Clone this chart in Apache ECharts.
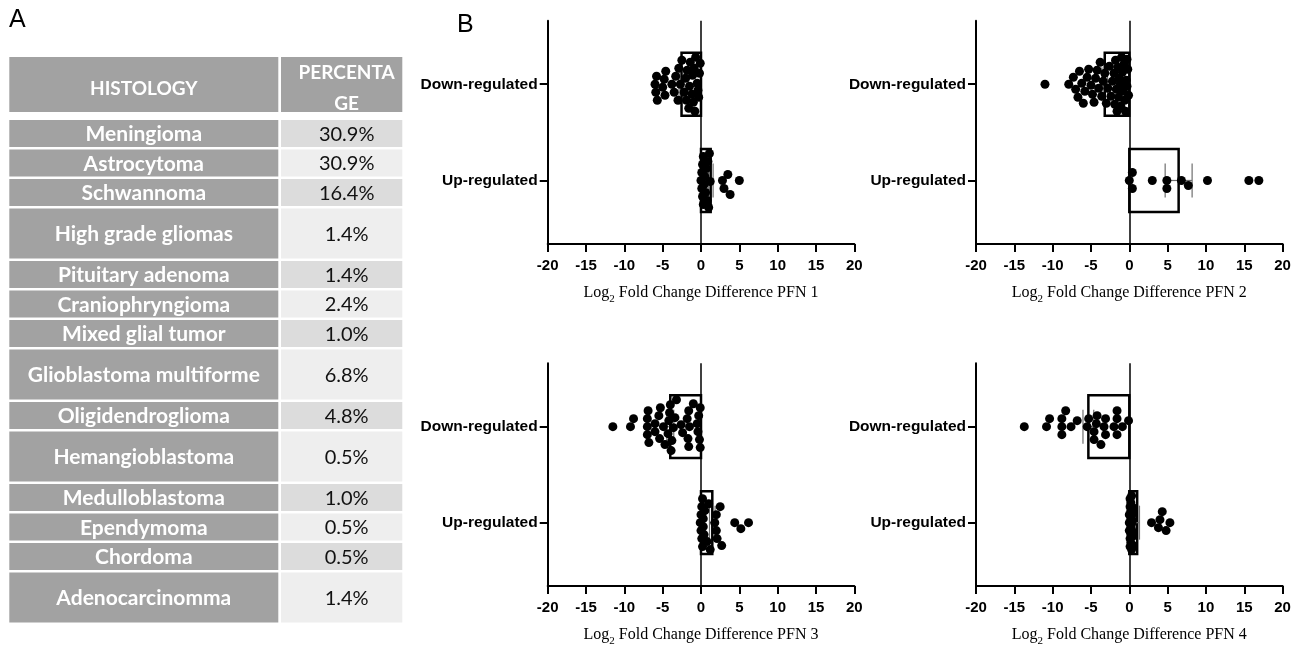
<!DOCTYPE html>
<html><head><meta charset="utf-8">
<script src="https://cdn.jsdelivr.net/npm/echarts@6/dist/echarts.min.js"></script>
<style>html,body{margin:0;padding:0;background:#fff}#c{width:1302px;height:648px}</style>
</head><body><div id="c"></div>
<script>
// ---------------- DATA ----------------
const tableHeader = ['HISTOLOGY', 'PERCENTA\nGE'];
const histology = ['Meningioma', 'Astrocytoma', 'Schwannoma', 'High grade gliomas', 'Pituitary adenoma',
  'Craniophryngioma', 'Mixed glial tumor', 'Glioblastoma multiforme', 'Oligidendroglioma',
  'Hemangioblastoma', 'Medulloblastoma', 'Ependymoma', 'Chordoma', 'Adenocarcinomma'];
const percentage = [30.9, 30.9, 16.4, 1.4, 1.4, 2.4, 1.0, 6.8, 4.8, 0.5, 1.0, 0.5, 0.5, 1.4];

const categories = ['Down-regulated', 'Up-regulated'];
const xTickValues = [-20, -15, -10, -5, 0, 5, 10, 15, 20];
const panelNames = ['PFN 1', 'PFN 2', 'PFN 3', 'PFN 4'];

const pfn1Down = [-6.0, -5.9, -5.8, -5.7, -5.0, -4.8, -4.7, -4.6, -3.8, -3.5, -3.3, -3.0, -2.9, -2.7, -2.5,
  -2.2, -2.0, -1.9, -1.8, -1.6, -1.5, -1.4, -1.2, -1.1, -1.0, -0.9, -0.8, -0.7, -0.5, -0.4, -0.3, -0.2, -0.1];
const pfn1Up = [0.0, 0.1, 0.1, 0.2, 0.2, 0.3, 0.3, 0.4, 0.5, 0.6, 0.7, 0.8, 0.9, 1.0, 1.1, 1.2, 2.8, 3.0, 3.5, 3.8, 5.0];

const pfn2Down = [-11.0, -7.9, -7.3, -7.0, -6.7, -6.5, -6.2, -6.0, -5.8, -5.5, -5.3, -5.0, -4.8, -4.6, -4.4,
  -4.2, -4.0, -3.8, -3.6, -3.4, -3.2, -3.0, -2.8, -2.6, -2.4, -2.2, -2.0, -1.9, -1.8, -1.7, -1.6, -1.5, -1.4,
  -1.3, -1.2, -1.1, -1.0, -0.9, -0.8, -0.7, -0.6, -0.5, -0.4, -0.3, -0.3, -0.2, -0.1];
const pfn2Up = [0.0, 0.4, 0.4, 3.0, 4.9, 4.9, 6.8, 7.7, 10.2, 15.6, 16.9];

const pfn3Down = [-11.5, -9.2, -8.8, -7.0, -7.0, -7.0, -6.9, -6.8, -6.0, -6.0, -5.5, -5.4, -5.3, -4.9, -4.7,
  -4.3, -4.2, -4.1, -4.0, -3.9, -3.8, -3.6, -3.4, -3.2, -2.6, -2.4, -1.8, -1.7, -1.6, -1.5, -1.6, -1.0,
  -0.5, -0.4, -0.3, -0.2, -0.1, -0.1];
const pfn3Up = [-0.1, 0.0, 0.0, 0.1, 0.1, 0.2, 0.2, 0.3, 0.3, 0.4, 0.5, 0.8, 1.0, 1.2, 1.8, 2.0, 2.0, 2.1,
  2.5, 2.7, 4.4, 5.2, 6.2];

const pfn4Down = [-13.7, -10.8, -10.4, -8.8, -8.8, -8.8, -8.3, -7.6, -6.8, -5.5, -5.3, -4.6, -4.6, -4.3,
  -4.2, -3.7, -3.3, -3.1, -3.1, -2.0, -1.6, -1.6, -1.6, -0.9, -0.1];
const pfn4Up = [0.0, 0.0, 0.0, 0.1, 0.1, 0.1, 0.1, 0.2, 0.2, 0.2, 0.2, 0.2, 0.2, 0.3, 0.3, 0.3, 0.3, 0.3,
  0.4, 0.4, 0.4, 0.4, 0.5, 0.5, 2.9, 3.8, 4.0, 4.3, 4.8, 5.3];

const panels = [[pfn1Down, pfn1Up], [pfn2Down, pfn2Up], [pfn3Down, pfn3Up], [pfn4Down, pfn4Up]];

// ---------------- LAYOUT / STYLE ----------------
const TABLE = { left: 9.3, top: 57, width: 393, height: 565 };
const COLS = [[0, 269], [271.7, 393]];
const HEADER_H = 55, FIRST_ROW = 63, SINGLE_H = 27, TALL_H = 50, ROW_GAP = 2.5;
const TALL = new Set(['High grade gliomas', 'Glioblastoma multiforme', 'Hemangioblastoma', 'Adenocarcinomma']);
const GRAY = '#a2a2a2', LIGHT1 = '#dcdcdc', LIGHT2 = '#eeeeee';

const rowsLayout = [{ y0: 0, y1: HEADER_H, header: true }];
let yy = FIRST_ROW;
histology.forEach((h, i) => {
  const hgt = TALL.has(h) ? TALL_H : SINGLE_H;
  rowsLayout.push({ y0: yy, y1: yy + hgt, label: h, pct: percentage[i].toFixed(1) + '%', fill: i % 2 === 0 ? LIGHT1 : LIGHT2 });
  yy += hgt + ROW_GAP;
});

const PLOT_W = 306.6, PLOT_H = 223.3;
const plotPos = [[547.7, 20.7], [976, 20.7], [547.7, 363.3], [976, 363.3]];
const Y_MIN = -0.66, Y_MAX = 1.66;
const BAR_HALF = 0.327;
const PX_X = PLOT_W / (xTickValues[xTickValues.length - 1] - xTickValues[0]);
const PX_Y = PLOT_H / (Y_MAX - Y_MIN);
const DOT = 9, DOT_D = 8, MAX_OFF = 27, CAP = 17;

function mean(a) { return a.reduce((s, v) => s + v, 0) / a.length; }
function sem(a) {
  const m = mean(a);
  const sd = Math.sqrt(a.reduce((s, v) => s + (v - m) * (v - m), 0) / (a.length - 1));
  return sd / Math.sqrt(a.length);
}
// deterministic beeswarm layout (pixel space)
function swarm(values, cat) {
  const placed = [];
  const out = [];
  const order = values.map((v, i) => i).sort((a, b) => values[a] - values[b]);
  order.forEach((idx, n) => {
    const x = values[idx] * PX_X;
    let chosen = null, bestY = 0, bestD = -1;
    for (let k = 0; k <= MAX_OFF && chosen === null; k++) {
      const cands = k === 0 ? [0] : (n % 2 ? [k, -k] : [-k, k]);
      for (const y of cands) {
        let minD = Infinity;
        for (const p of placed) {
          const d = Math.hypot(p[0] - x, p[1] - y);
          if (d < minD) minD = d;
        }
        if (minD >= DOT_D) { chosen = y; break; }
        if (minD > bestD) { bestD = minD; bestY = y; }
      }
    }
    const y = chosen === null ? bestY : chosen;
    placed.push([x, y]);
    out.push([values[idx], cat + y / PX_Y]);
  });
  return out;
}

// ---------------- OPTION ----------------
const grids = [{ left: TABLE.left, top: TABLE.top, width: TABLE.width, height: TABLE.height }];
const xAxes = [{ gridIndex: 0, type: 'value', min: 0, max: TABLE.width, show: false }];
const yAxes = [{ gridIndex: 0, type: 'value', min: 0, max: TABLE.height, inverse: true, show: false }];
const series = [];

series.push({
  type: 'custom', xAxisIndex: 0, yAxisIndex: 0, silent: true,
  data: rowsLayout.map((r, i) => [i]),
  renderItem: function (params, api) {
    const r = rowsLayout[api.value(0)];
    const children = [];
    COLS.forEach((c, ci) => {
      const p0 = api.coord([c[0], r.y0]), p1 = api.coord([c[1], r.y1]);
      const fill = r.header || ci === 0 ? GRAY : r.fill;
      children.push({ type: 'rect', shape: { x: p0[0], y: p0[1], width: p1[0] - p0[0], height: p1[1] - p0[1] }, style: { fill: fill } });
      const cx = (p0[0] + p1[0]) / 2 + (ci === 1 ? 5 : 0);
      const cy = (p0[1] + p1[1]) / 2;
      let st;
      if (r.header) {
        st = { text: tableHeader[ci], x: cx, y: cy + (ci === 1 ? 4 : 4), fill: '#fff', fontFamily: 'Lato', fontWeight: 'bold', fontSize: 19,
          align: 'center', verticalAlign: 'middle', lineHeight: 30.6 };
      } else if (ci === 0) {
        st = { text: r.label, x: cx, y: cy + 1, fill: '#fff', fontFamily: 'Lato', fontWeight: 'bold', fontSize: 21,
          align: 'center', verticalAlign: 'middle' };
      } else {
        st = { text: r.pct, x: cx, y: cy + 1, fill: '#111', fontFamily: 'Lato', fontWeight: 'normal', fontSize: 20,
          align: 'center', verticalAlign: 'middle' };
      }
      children.push({ type: 'text', style: st });
    });
    return { type: 'group', children: children };
  }
});

panels.forEach((pd, k) => {
  const gi = k + 1;
  grids.push({ left: plotPos[k][0], top: plotPos[k][1], width: PLOT_W, height: PLOT_H });
  xAxes.push({
    gridIndex: gi, type: 'value', min: xTickValues[0], max: xTickValues[xTickValues.length - 1], interval: 5,
    axisLine: { show: true, onZero: false, lineStyle: { color: '#000', width: 2 } },
    axisTick: { show: true, length: 8, lineStyle: { color: '#000', width: 2 } },
    axisLabel: { color: '#000', fontFamily: 'Liberation Sans', fontWeight: 'bold', fontSize: 15, margin: 14 },
    splitLine: { show: false },
    name: '{t|Log}{s|2}{t| Fold Change Difference ' + panelNames[k] + '}',
    nameLocation: 'middle', nameGap: 37,
    nameTextStyle: {
      color: '#000',
      rich: {
        t: { fontFamily: 'Liberation Serif', fontSize: 16, color: '#000', lineHeight: 24, verticalAlign: 'middle' },
        s: { fontFamily: 'Liberation Serif', fontSize: 11, color: '#000', lineHeight: 12, verticalAlign: 'bottom' }
      }
    }
  });
  yAxes.push({
    gridIndex: gi, type: 'value', min: Y_MIN, max: Y_MAX, inverse: true,
    axisLine: { show: true, onZero: false, lineStyle: { color: '#000', width: 2 } },
    axisTick: { show: true, length: 8, customValues: [0, 1], lineStyle: { color: '#000', width: 2 } },
    axisLabel: { show: true, customValues: [0, 1], color: '#000', fontFamily: 'Liberation Sans', fontWeight: 'bold',
      fontSize: 15.5, margin: 10, formatter: v => categories[Math.round(v)] },
    splitLine: { show: false }
  });
  // bars (mean)
  series.push({
    type: 'custom', xAxisIndex: gi, yAxisIndex: gi, silent: true, z: 2,
    data: pd.map((arr, c) => [c, mean(arr)]),
    renderItem: function (params, api) {
      const c = api.value(0), m = api.value(1);
      const p0 = api.coord([0, c - BAR_HALF]), p1 = api.coord([m, c + BAR_HALF]);
      return { type: 'rect', shape: { x: Math.min(p0[0], p1[0]), y: Math.min(p0[1], p1[1]),
        width: Math.abs(p1[0] - p0[0]), height: Math.abs(p1[1] - p0[1]) },
        style: { fill: 'rgba(255,255,255,0)', stroke: '#000', lineWidth: 2.5 } };
    }
  });
  // error bars (mean ± SEM), drawn beneath the dots
  series.push({
    type: 'custom', xAxisIndex: gi, yAxisIndex: gi, silent: true, z: 3,
    data: pd.map((arr, c) => [c, mean(arr), sem(arr)]),
    renderItem: function (params, api) {
      const c = api.value(0), m = api.value(1), s = api.value(2);
      const pL = api.coord([m - s, c]), pR = api.coord([m + s, c]);
      const st = { stroke: '#6e6e6e', lineWidth: 1.2 };
      return { type: 'group', children: [
        { type: 'line', shape: { x1: pL[0], y1: pL[1], x2: pR[0], y2: pR[1] }, style: st },
        { type: 'line', shape: { x1: pL[0], y1: pL[1] - CAP, x2: pL[0], y2: pL[1] + CAP }, style: st },
        { type: 'line', shape: { x1: pR[0], y1: pR[1] - CAP, x2: pR[0], y2: pR[1] + CAP }, style: st }
      ] };
    }
  });
  // dots
  series.push({
    type: 'scatter', xAxisIndex: gi, yAxisIndex: gi, silent: true, z: 4,
    symbol: 'circle', symbolSize: DOT, itemStyle: { color: '#000', opacity: 1 },
    data: swarm(pd[0], 0).concat(swarm(pd[1], 1)),
    markLine: { silent: true, symbol: ['none', 'none'], label: { show: false }, animation: false,
      lineStyle: { color: '#000', width: 1.5, type: 'solid' }, data: [{ xAxis: 0 }] }
  });
});

const chart = echarts.init(document.getElementById('c'), null, { renderer: 'canvas' });
chart.setOption({
  backgroundColor: '#fff',
  animation: false,
  graphic: [
    { type: 'text', left: 9, top: 8, style: { text: 'A', fontSize: 25, fontFamily: 'Liberation Sans', fill: '#000' } },
    { type: 'text', left: 457, top: 13, style: { text: 'B', fontSize: 25, fontFamily: 'Liberation Sans', fill: '#000' } }
  ],
  grid: grids, xAxis: xAxes, yAxis: yAxes, series: series
});
</script></body></html>
